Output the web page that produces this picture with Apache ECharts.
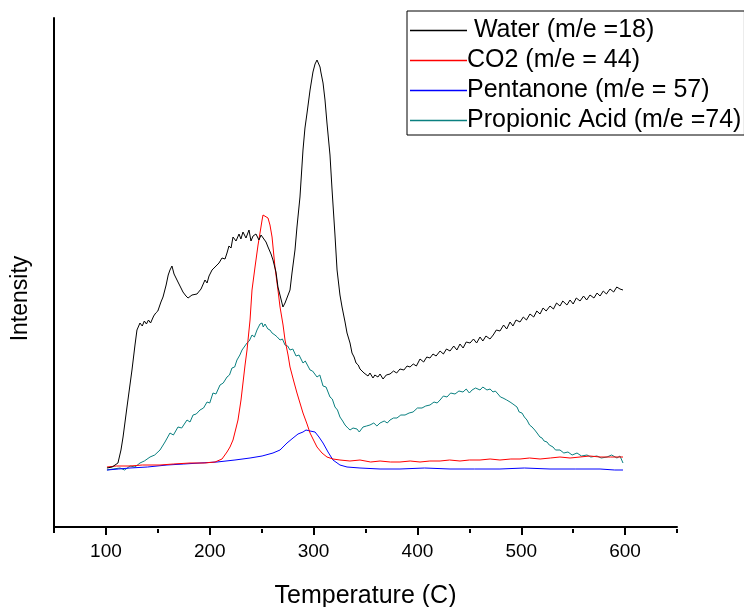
<!DOCTYPE html>
<html>
<head>
<meta charset="utf-8">
<script src="https://cdn.jsdelivr.net/npm/echarts@6/dist/echarts.min.js"></script>
<style>
html,body{margin:0;padding:0;background:#fff;}
#chartmain{width:744px;height:607px;}
</style>
</head>
<body>
<div id="chartmain"></div>
<script>
// series names as in the legend
var seriesNames=[' Water (m/e =18)','CO2 (m/e = 44)','Pentanone (m/e = 57)','Propionic Acid (m/e =74)'];
var seriesColors=['#000000','#ff0000','#0000ff','#0a8080'];
var xTicks=[100,200,300,400,500,600];

// [temperature, intensity (arb. units)]
var water=[[101,59],[106,60],[111.6,64],[114.5,77],[116.5,90],[120.3,120],[125.1,157],[128,182],[129.9,197],[132.8,204],[135,201],[137,206],[139,203],[141,207],[143,204],[146,211],[148,214],[150,216],[153,225],[155,230],[158,242],[160,252],[161.7,257],[163.6,261],[165.6,253],[167.5,251],[169.4,245],[172.3,239],[174.2,235],[177.1,231],[179.1,229],[182.9,232],[187.7,233],[191.6,238],[195.4,247],[197.4,244],[199.3,251],[202.2,257],[205.1,260],[207,258],[208.9,264],[211.8,269],[214.7,268],[216.6,274],[218.5,281],[220.5,279],[222.4,290],[225.3,286],[228.2,293],[230,288],[232,295],[234.9,289],[237.8,297],[239.7,286],[241.7,291],[244.5,293],[247.4,287],[249.4,292],[251.3,290],[254.2,285],[256.1,280],[259,273],[260.9,267],[263.8,255],[265.7,240],[268.6,228],[270.5,220],[272.5,224],[274.4,222],[277.3,237],[279.2,254],[282.1,277],[284,300],[286.9,330],[289.8,377],[291.7,399],[293.7,414],[296.6,437],[299.4,455],[301.4,463],[303.3,467],[306.2,460],[307,455],[309.1,444],[311,427],[312.9,404],[315.8,372],[317.8,337],[320.6,292],[322.6,257],[325.4,232],[327.4,220],[330.3,205],[332.2,194],[335.1,184],[337,174],[339,170],[340.9,164],[343,162],[344.7,158],[346.5,160],[348.6,154],[350.5,156],[352.4,151],[354.3,154],[357.2,149],[359,152],[362,150],[364,153],[366.9,148],[370,152],[373.6,153],[377,156],[380,154],[383.2,158],[387,157],[390,161],[392.9,160],[396,163],[399,161],[402.5,168],[406,165],[409,170],[412.1,169],[415,173],[418,171],[421.8,176],[425,173],[428,178],[431.4,176],[435,181],[438,177],[441,183],[444,179],[447,185],[450.7,184],[454,188],[457,184],[460.3,190],[463,186],[466,191],[469.9,188],[473,192],[476,197],[479.5,196],[483,202],[486,198],[489.2,205],[492,201],[495,207],[498.8,205],[502,210],[505,207],[508.4,213],[512,210],[515,216],[518.1,213],[521,219],[524,216],[527.7,221],[531,218],[534,224],[537.3,221],[540,226],[544,222],[547,227],[550,223],[553,229],[556.6,226],[560,231],[563,227],[566.2,232],[570,229],[573,234],[575.9,231],[579,236],[582,233],[585.5,238],[589,235],[592,240],[595.1,238],[598,237]];
var co2=[[101,60],[110,61],[123.2,61],[135,62],[152.1,62],[165,63],[181,64],[195,64],[205.1,65],[211.8,68],[216.6,75],[219.5,80],[222.4,87],[225.3,99],[227.2,107],[230.1,127],[232,144],[234,162],[235.9,177],[238.8,207],[240.7,237],[243.6,260],[246.5,282],[248.4,294],[250.4,307],[251.3,312],[253.2,311],[256.1,309],[258,302],[260,290],[262.8,260],[265.7,237],[267.7,220],[270.6,202],[272.5,187],[275.4,172],[277.3,160],[281.1,145],[284,134],[286.9,124],[289.8,114],[293.7,103],[296.6,94],[300.4,86],[303.3,80],[308.1,74],[312.9,70],[318.7,68],[325.4,67],[335,66],[344.7,67],[355,65],[364,66],[374,65],[383.2,65],[393,66],[402.5,65],[412,66],[421.8,66],[431,67],[441,66],[450,67],[460.3,67],[470,68],[479.5,67],[490,68],[498.8,68],[508,69],[518.1,68],[528,69],[537.3,70],[547,69],[556.6,70],[566,71],[575.9,70],[586,70],[598,70]];
var pentanone=[[101,57],[112,58],[123.2,59],[140,60],[158.8,62],[175,63],[190.6,64],[207,65],[224.3,67],[238.8,69],[250.4,71],[260.9,74],[267.7,77],[274.4,84],[280.2,89],[285,93],[289.8,95],[292.7,97],[296.6,96],[301.4,95],[305.2,90],[309.1,84],[313.9,75],[318.7,67],[325.4,62],[332.2,60],[344.7,59],[364,58],[383.2,58],[407,59],[431.4,58],[455,58],[479.5,58],[503,59],[527.7,58],[552,58],[575.9,58],[590,57],[598,57]];
var propionic=[[101,57],[107,58],[113.6,59],[118,57],[123.2,61],[128,60],[132.8,64],[137,66],[142.5,70],[147,72],[152.1,77],[156.9,85],[161.7,94],[165,92],[169.4,100],[173,99],[178.1,107],[181,105],[183.9,112],[187,113],[190.6,117],[194,119],[197.4,125],[200,124],[203.1,134],[206,133],[209.9,142],[213,144],[216.6,150],[219,152],[221.4,159],[224,160],[226.2,167],[229,172],[231.1,177],[233,176],[235.9,184],[238,186],[240.7,192],[243,190],[245.5,197],[248.4,203],[250.4,204],[251.5,200],[253.2,203],[256,198],[258,197],[260,194],[262.8,192],[265,190],[267.7,187],[270,188],[272.5,182],[275,181],[277.3,177],[280,178],[283.1,171],[286,172],[289.8,164],[292,166],[296.6,157],[299,156],[303.3,150],[306,152],[309.1,141],[312,140],[315.8,130],[318,128],[320.6,120],[323,117],[325.4,110],[328,106],[330.3,102],[333,99],[335.1,97],[338,99],[341.8,98],[344,95],[347.6,100],[351,101],[354.3,102],[358,104],[361,101],[364,104],[368,106],[371,104],[373.6,107],[377,109],[380.3,109],[384,112],[388.1,112],[392,114],[395.8,115],[400,119],[404.4,119],[408,121],[412.1,122],[416,125],[419,124],[421.8,127],[425,131],[428.5,130],[432,134],[436.2,133],[440,136],[443.9,135],[447,138],[450,134],[452.6,137],[456,139],[460.3,137],[463,140],[467,137],[470,138],[472.8,135],[475,136],[477.6,133],[480,130],[482.4,129],[486,127],[489.2,125],[492,123],[495.9,120],[498,115],[500.7,114],[503,110],[505.5,107],[508,102],[510.4,100],[513,97],[515.2,94],[518,90],[520,89],[522,86],[524.8,85],[527,82],[530.6,80],[533,77],[537.3,77],[541,74],[545,75],[549,72],[553.7,74],[558,71],[563.3,72],[567,70],[572.9,71],[577,69],[582.6,70],[587,72],[592.2,69],[595.1,71],[598,64]];

var allData=[water,co2,pentanone,propionic];

var fontFam='Liberation Sans, Arial, sans-serif';
var series=[];
for(var i=0;i<allData.length;i++){
	series.push({
		name:seriesNames[i],
		type:'line',
		data:allData[i],
		showSymbol:false,
		symbol:'none',
		animation:false,
		lineStyle:{color:seriesColors[i],width:1},
		itemStyle:{color:seriesColors[i]},
		z:10-i
	});
}

var option={
	backgroundColor:'#ffffff',
	animation:false,
	legend:{
		orient:'vertical',
		left:407,
		top:11,
		padding:[7,3,2,3],
		itemGap:5,
		itemWidth:57,
		itemHeight:1.5,
		icon:'rect',
		borderColor:'#000',
		borderWidth:1,
		backgroundColor:'#fff',
		data:seriesNames,
		textStyle:{fontFamily:fontFam,fontSize:25,color:'#000',lineHeight:25,padding:[0,0,0,-5]}
	},
	grid:{left:54,right:67,top:18,bottom:78,containLabel:false,outerBoundsMode:'none'},
	xAxis:[{
		type:'value',
		min:50,
		max:650,
		name:'Temperature (C)',
		nameLocation:'middle',
		nameGap:55,
		nameTextStyle:{fontFamily:fontFam,fontSize:25,color:'#000'},
		axisLine:{show:true,lineStyle:{color:'#000',width:2}},
		axisTick:{show:true,inside:false,length:8,customValues:xTicks,lineStyle:{color:'#000',width:2}},
		axisLabel:{show:true,margin:13,customValues:xTicks,fontFamily:fontFam,fontSize:19,color:'#000'},
		splitLine:{show:false}
	},{
		// minor ticks at 50, 150, ... 650
		type:'value',
		position:'bottom',
		min:50,
		max:650,
		interval:100,
		axisLine:{show:false},
		axisTick:{show:true,length:4,lineStyle:{color:'#000',width:2}},
		axisLabel:{show:false},
		splitLine:{show:false}
	}],
	yAxis:{
		type:'value',
		min:-2,
		max:509,
		name:'Intensity',
		nameLocation:'middle',
		nameGap:22,
		nameTextStyle:{fontFamily:fontFam,fontSize:23,color:'#000',padding:[0,50,0,0]},
		axisLine:{show:true,lineStyle:{color:'#000',width:2}},
		axisTick:{show:false},
		axisLabel:{show:false},
		splitLine:{show:false}
	},
	series:series
};
var myChart=echarts.init(document.getElementById('chartmain'));
myChart.setOption(option);
</script>
</body>
</html>
